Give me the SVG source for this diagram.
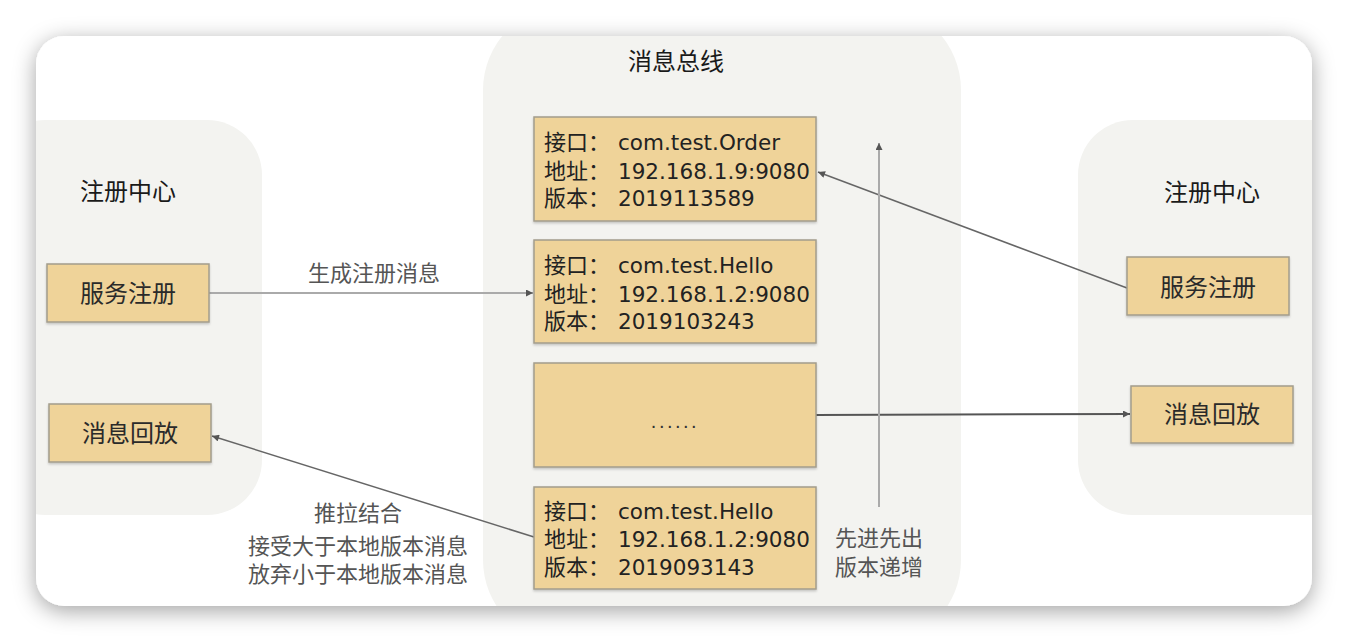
<svg xmlns="http://www.w3.org/2000/svg" width="1348" height="642" viewBox="0 0 1348 642">
<defs>
  <filter id="cardShadow" x="-10%" y="-10%" width="120%" height="130%">
    <feDropShadow dx="0" dy="5" stdDeviation="11" flood-color="#000" flood-opacity="0.36"/>
  </filter>
  <filter id="nodeShadow" x="-5%" y="-5%" width="110%" height="120%">
    <feDropShadow dx="0" dy="1.5" stdDeviation="0.8" flood-color="#000" flood-opacity="0.2"/>
  </filter>
  <clipPath id="cardClip">
    <rect x="36" y="36" width="1276" height="570" rx="28" ry="28"/>
  </clipPath>
  <marker id="arrow" viewBox="0 0 10 10" refX="10" refY="5" markerWidth="8" markerHeight="7" markerUnits="userSpaceOnUse" orient="auto">
    <path d="M0,0 L10,5 L0,10 z" fill="#555"/>
  </marker>
  <style>
    .container { fill: #f3f3f0; }
    .node rect { fill: #efd399; stroke: #a39d8c; stroke-width: 1.5; filter: url(#nodeShadow); }
    .title { font-family: "Noto Sans CJK SC", sans-serif; font-size: 24px; fill: #1a1a1a; text-anchor: middle; }
    .ntext { font-family: "Noto Sans CJK SC", sans-serif; font-size: 24px; fill: #2a2a2a; text-anchor: middle; }
    .btext { font-family: "Noto Sans CJK SC", sans-serif; font-size: 22px; fill: #222; }
    .val { font-family: "DejaVu Sans", sans-serif; font-size: 21.5px; fill: #222; }
    .label { font-family: "Noto Sans CJK SC", sans-serif; font-size: 22px; fill: #555; text-anchor: middle; }
    .edge { fill: none; marker-end: url(#arrow); }
  </style>
</defs>

<rect x="0" y="0" width="1348" height="642" fill="#ffffff"/>
<rect x="36" y="36" width="1276" height="570" rx="28" ry="28" fill="#ffffff" filter="url(#cardShadow)"/>

<g clip-path="url(#cardClip)">
  <rect id="left-container" class="container" x="-10" y="120" width="272" height="395" rx="55" ry="55"/>
  <rect id="bus-container" class="container" x="483" y="5" width="478" height="640" rx="85" ry="85"/>
  <rect id="right-container" class="container" x="1078" y="120" width="300" height="395" rx="55" ry="55"/>
</g>

<text class="title" x="128" y="200">注册中心</text>
<text class="title" x="676" y="70">消息总线</text>
<text class="title" x="1212" y="201">注册中心</text>

<g id="connectors">
  <line class="edge" x1="209" y1="293" x2="533" y2="293" stroke="#aaaaaa" stroke-width="2"/>
  <line class="edge" x1="1127" y1="288" x2="818" y2="172" stroke="#666" stroke-width="1.5"/>
  <line class="edge" x1="816" y1="415" x2="1130" y2="414" stroke="#555" stroke-width="2"/>
  <line class="edge" x1="534" y1="537" x2="212" y2="436" stroke="#666" stroke-width="1.5"/>
  <line class="edge" x1="879" y1="507" x2="879" y2="143" stroke="#aaaaaa" stroke-width="2"/>
  <text class="label" x="374" y="281">生成注册消息</text>
  <text class="label" x="358" y="521">推拉结合</text>
  <text class="label" x="358" y="554">接受大于本地版本消息</text>
  <text class="label" x="358" y="582">放弃小于本地版本消息</text>
  <text class="label" x="879" y="546">先进先出</text>
  <text class="label" x="879" y="575">版本递增</text>
</g>

<g id="left-register" class="node">
  <rect x="47" y="264" width="162" height="58"/>
  <text class="ntext" x="128" y="302">服务注册</text>
</g>
<g id="left-replay" class="node">
  <rect x="49" y="404" width="162" height="58"/>
  <text class="ntext" x="130" y="442">消息回放</text>
</g>
<g id="right-register" class="node">
  <rect x="1127" y="257" width="162" height="58"/>
  <text class="ntext" x="1208" y="296">服务注册</text>
</g>
<g id="right-replay" class="node">
  <rect x="1131" y="386" width="162" height="57"/>
  <text class="ntext" x="1212" y="423">消息回放</text>
</g>

<g id="msg-order" class="node">
  <rect x="534" y="117" width="282" height="104"/>
  <text class="btext" x="544" y="150">接口：</text>
  <text class="val" x="618" y="150">com.test.Order</text>
  <text class="btext" x="544" y="179">地址：</text>
  <text class="val" x="618" y="179">192.168.1.9:9080</text>
  <text class="btext" x="544" y="206">版本：</text>
  <text class="val" x="618" y="206">2019113589</text>
</g>
<g id="msg-hello-1" class="node">
  <rect x="534" y="240" width="282" height="103"/>
  <text class="btext" x="544" y="273">接口：</text>
  <text class="val" x="618" y="273">com.test.Hello</text>
  <text class="btext" x="544" y="302">地址：</text>
  <text class="val" x="618" y="302">192.168.1.2:9080</text>
  <text class="btext" x="544" y="329">版本：</text>
  <text class="val" x="618" y="329">2019103243</text>
</g>
<g id="msg-more" class="node">
  <rect x="534" y="363" width="282" height="104"/>
  <text x="675" y="428" style="font-family:'Liberation Sans',sans-serif;font-size:20px;letter-spacing:2.5px;fill:#333;text-anchor:middle">......</text>
</g>
<g id="msg-hello-2" class="node">
  <rect x="534" y="487" width="282" height="102"/>
  <text class="btext" x="544" y="519">接口：</text>
  <text class="val" x="618" y="519">com.test.Hello</text>
  <text class="btext" x="544" y="547">地址：</text>
  <text class="val" x="618" y="547">192.168.1.2:9080</text>
  <text class="btext" x="544" y="575">版本：</text>
  <text class="val" x="618" y="575">2019093143</text>
</g>
</svg>
